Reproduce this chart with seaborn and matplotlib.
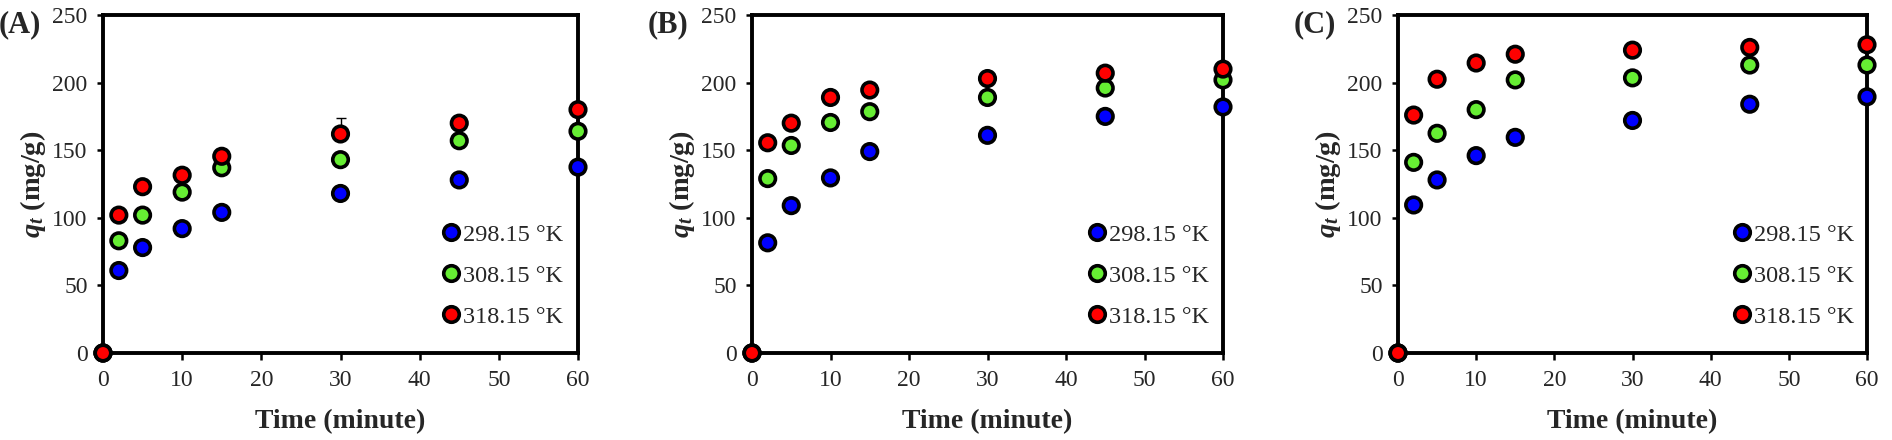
import matplotlib
matplotlib.use("Agg")
import matplotlib.pyplot as plt
from matplotlib.lines import Line2D
import seaborn as sns
import pandas as pd
import numpy as np

# ---------------- data ----------------
time_min = [0, 2, 5, 10, 15, 30, 45, 60]
temperatures = ["298.15 °K", "308.15 °K", "318.15 °K"]
panel_labels = ["(A)", "(B)", "(C)"]

# Panel A
a_298 = [0, 61, 78, 92, 104, 118, 128, 137.5]
a_308 = [0, 83, 102, 119, 137, 143, 157, 164]
a_318 = [0, 102, 123, 131.5, 145.5, 162, 170, 180]
a_318_err = [0, 0, 0, 0, 0, 12, 0, 0]

# Panel B
b_298 = [0, 81.5, 109, 129.5, 149, 161, 175, 182]
b_308 = [0, 129, 153.5, 170.5, 178.5, 189, 196, 202]
b_318 = [0, 155.5, 170, 189, 194.5, 203, 207, 210]

# Panel C
c_298 = [0, 109.5, 128, 146, 159.5, 172, 184, 189.5]
c_308 = [0, 141, 162.5, 180, 202, 203.5, 213, 213]
c_318 = [0, 176, 202.5, 214.5, 221, 224, 226, 228]

x_ticks = [0, 10, 20, 30, 40, 50, 60]
y_ticks = [0, 50, 100, 150, 200, 250]

# ---------------- style ----------------
sns.set_theme(style="white")
plt.rcParams["font.family"] = ["Liberation Serif", "DejaVu Serif"]
plt.rcParams["mathtext.fontset"] = "custom"
plt.rcParams["mathtext.rm"] = "Liberation Serif:bold"
plt.rcParams["mathtext.it"] = "Liberation Serif:bold:italic"
plt.rcParams["mathtext.bf"] = "Liberation Serif:bold"

colors = ["#0000FF", "#66EE33", "#FF0000"]

fig = plt.figure(figsize=(18.92, 4.4), dpi=100)
W, H = 1892, 440
axes_px = [(103, 475), (752, 471), (1398, 469)]
top_px, bot_px = 15, 353

panels = [
    (a_298, a_308, a_318),
    (b_298, b_308, b_318),
    (c_298, c_308, c_318),
]

for i, (series, (left, width)) in enumerate(zip(panels, axes_px)):
    ax = fig.add_axes([left / W, (H - bot_px) / H, width / W, (bot_px - top_px) / H])
    rows = []
    for temp, vals in zip(temperatures, series):
        for t, v in zip(time_min, vals):
            rows.append({"Time": t, "qt": v, "Temperature": temp})
    df = pd.DataFrame(rows)

    if i == 0:
        # error bar on panel A, 318.15 K series (upper side)
        ax.errorbar(time_min, a_318, yerr=[np.zeros(len(a_318_err)), a_318_err],
                    fmt="none", ecolor="black", elinewidth=1.0, capsize=3.5,
                    capthick=1.0, zorder=2)

    sns.scatterplot(data=df, x="Time", y="qt", hue="Temperature",
                    hue_order=temperatures, palette=colors, s=125,
                    edgecolor="black", linewidth=2.6, ax=ax, legend=False,
                    clip_on=False, zorder=3)

    ax.set_xlim(0, 60)
    ax.set_ylim(0, 250)
    ax.set_xticks(x_ticks)
    ax.set_yticks(y_ticks)
    ax.tick_params(axis="x", which="major", direction="out", length=5,
                   width=1.8, color="black", labelsize=17, pad=7,
                   bottom=True)
    ax.tick_params(axis="y", which="major", direction="out", length=4,
                   width=1.8, color="black", labelsize=17, pad=7,
                   left=True)
    for sp in ax.spines.values():
        sp.set_linewidth(2.8)
        sp.set_color("black")
        sp.set_visible(True)
    ax.set_xlabel("Time (minute)", fontsize=20, fontweight="bold", labelpad=13)
    ax.set_ylabel(r"$q_t$ (mg/g)", fontsize=20.5, fontweight="bold", labelpad=3)

    handles = [Line2D([0], [0], marker="o", linestyle="none",
                      markerfacecolor=c, markeredgecolor="black",
                      markeredgewidth=2.6, markersize=11.2) for c in colors]
    ax.legend(handles, temperatures, loc="center left",
              bbox_to_anchor=(0.712, 0.228), frameon=False, fontsize=17.5,
              handlelength=0.8, handletextpad=0.1, labelspacing=0.78,
              borderpad=0, borderaxespad=0)

    ax.text(-104 / width, 0.97, panel_labels[i], transform=ax.transAxes,
            fontsize=22, fontweight="bold", ha="left", va="center")

fig.savefig("out.png", dpi=100)
